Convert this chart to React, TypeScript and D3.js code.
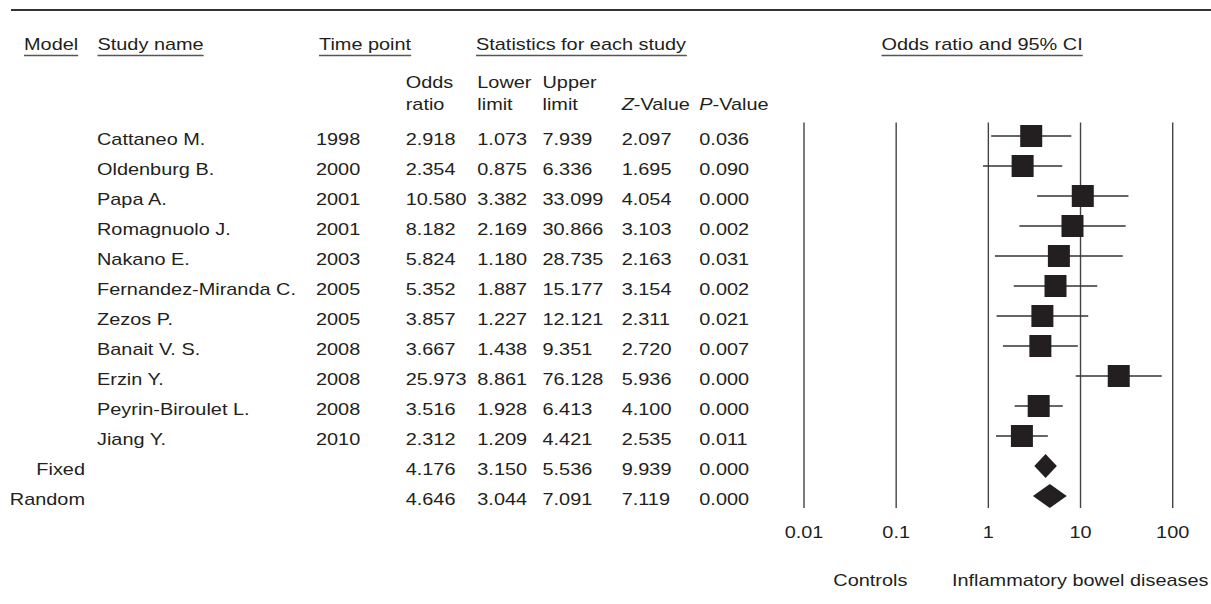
import React, { useEffect, useRef } from "react";
import * as d3 from "d3";

const studyNames = [
  "Cattaneo M.", "Oldenburg B.", "Papa A.", "Romagnuolo J.", "Nakano E.",
  "Fernandez-Miranda C.", "Zezos P.", "Banait V. S.", "Erzin Y.",
  "Peyrin-Biroulet L.", "Jiang Y.",
];
const years = ["1998", "2000", "2001", "2001", "2003", "2005", "2005", "2008", "2008", "2008", "2010"];
const oddsRatio = [2.918, 2.354, 10.58, 8.182, 5.824, 5.352, 3.857, 3.667, 25.973, 3.516, 2.312];
const lowerLimit = [1.073, 0.875, 3.382, 2.169, 1.18, 1.887, 1.227, 1.438, 8.861, 1.928, 1.209];
const upperLimit = [7.939, 6.336, 33.099, 30.866, 28.735, 15.177, 12.121, 9.351, 76.128, 6.413, 4.421];
const zValue = [2.097, 1.695, 4.054, 3.103, 2.163, 3.154, 2.311, 2.72, 5.936, 4.1, 2.535];
const pValue = [0.036, 0.09, 0.0, 0.002, 0.031, 0.002, 0.021, 0.007, 0.0, 0.0, 0.011];

const pooledModels = ["Fixed", "Random"];
const pooledOR = [4.176, 4.646];
const pooledLower = [3.15, 3.044];
const pooledUpper = [5.536, 7.091];
const pooledZ = [9.939, 7.119];
const pooledP = [0.0, 0.0];

const tickValues = [0.01, 0.1, 1, 10, 100];
const tickLabels = ["0.01", "0.1", "1", "10", "100"];

const W = 1211;
const H = 604;
const SX = 1.17;
const FS = 17;
const INK = "#231f20";

export default function App() {
  const ref = useRef<SVGSVGElement | null>(null);

  useEffect(() => {
    const svg = d3.select(ref.current);
    svg.selectAll("*").remove();
    const g = svg.append("g").attr("font-family", "'Liberation Sans', Arial, Helvetica, sans-serif")
      .attr("font-size", FS).attr("fill", INK);

    const fmt = d3.format(".3f");

    const addText = (x: number, y: number, str: string, anchor = "start") =>
      g.append("text")
        .attr("transform", `translate(${x},${y}) scale(${SX},1)`)
        .attr("text-anchor", anchor)
        .text(str);

    const underline = (t: any, x: number, y: number) => {
      const node = t.node() as SVGTextElement;
      const bb = node.getBBox();
      g.append("line")
        .attr("x1", x + bb.x * SX).attr("x2", x + (bb.x + bb.width) * SX)
        .attr("y1", y).attr("y2", y)
        .attr("stroke", "#555").attr("stroke-width", 1.6);
    };

    // top rule
    g.append("line").attr("x1", 11).attr("x2", W).attr("y1", 10).attr("y2", 10)
      .attr("stroke", "#333").attr("stroke-width", 2);

    // header row 1
    const hY = 50;
    const ulY = 55.5;
    const headers: [number, string][] = [
      [24, "Model"], [97.5, "Study name"], [319, "Time point"],
      [476, "Statistics for each study"], [881.5, "Odds ratio and 95% CI"],
    ];
    headers.forEach(([x, s]) => {
      const t = addText(x, hY, s);
      underline(t, x, ulY);
    });

    // header row 2
    const colOR = 405.7, colLo = 477.3, colUp = 542.5, colZ = 621.7, colP = 699.3;
    addText(colOR, 88, "Odds");
    addText(colOR, 110, "ratio");
    addText(colLo, 88, "Lower");
    addText(colLo, 110, "limit");
    addText(colUp, 88, "Upper");
    addText(colUp, 110, "limit");
    const zt = g.append("text").attr("transform", `translate(${colZ},110) scale(${SX},1)`);
    zt.append("tspan").attr("font-style", "italic").text("Z");
    zt.append("tspan").text("-Value");
    const pt = g.append("text").attr("transform", `translate(${colP},110) scale(${SX},1)`);
    pt.append("tspan").attr("font-style", "italic").text("P");
    pt.append("tspan").text("-Value");

    // rows
    const rowKeys = [...studyNames, ...pooledModels];
    const y = d3.scalePoint<string>().domain(rowKeys).range([136, 496]);
    const x = d3.scaleLog().domain([0.01, 100]).range([804, 1172.7]);
    const tOff = 9;

    studyNames.forEach((name, i) => {
      const yy = y(name)! + tOff;
      addText(97, yy, name);
      addText(316, yy, years[i]);
      addText(colOR, yy, fmt(oddsRatio[i]));
      addText(colLo, yy, fmt(lowerLimit[i]));
      addText(colUp, yy, fmt(upperLimit[i]));
      addText(colZ, yy, fmt(zValue[i]));
      addText(colP, yy, fmt(pValue[i]));
    });
    pooledModels.forEach((m, i) => {
      const yy = y(m)! + tOff;
      addText(85, yy, m, "end");
      addText(colOR, yy, fmt(pooledOR[i]));
      addText(colLo, yy, fmt(pooledLower[i]));
      addText(colUp, yy, fmt(pooledUpper[i]));
      addText(colZ, yy, fmt(pooledZ[i]));
      addText(colP, yy, fmt(pooledP[i]));
    });

    // plot vertical reference lines
    const plotTop = 122.5, plotBottom = 508;
    g.append("g").selectAll("line").data(tickValues).join("line")
      .attr("x1", (d) => x(d)).attr("x2", (d) => x(d))
      .attr("y1", plotTop).attr("y2", plotBottom)
      .attr("stroke", "#444").attr("stroke-width", 1.4);

    // tick labels
    tickValues.forEach((v, i) => addText(x(v), 537.5, tickLabels[i], "middle"));

    // CI whiskers
    g.append("g").selectAll("line").data(studyNames).join("line")
      .attr("x1", (_, i) => x(lowerLimit[i])).attr("x2", (_, i) => x(upperLimit[i]))
      .attr("y1", (d) => y(d)!).attr("y2", (d) => y(d)!)
      .attr("stroke", "#333").attr("stroke-width", 1.5);

    // squares
    const sq = 22;
    g.append("g").selectAll("rect").data(studyNames).join("rect")
      .attr("x", (_, i) => x(oddsRatio[i]) - sq / 2)
      .attr("y", (d) => y(d)! - sq / 2)
      .attr("width", sq).attr("height", sq)
      .attr("fill", INK);

    // diamonds
    const dh = 12;
    g.append("g").selectAll("path").data(pooledModels).join("path")
      .attr("d", (d, i) => {
        const cy = y(d)!;
        const path = d3.path();
        path.moveTo(x(pooledLower[i]), cy);
        path.lineTo(x(pooledOR[i]), cy - dh);
        path.lineTo(x(pooledUpper[i]), cy);
        path.lineTo(x(pooledOR[i]), cy + dh);
        path.closePath();
        return path.toString();
      })
      .attr("fill", INK);

    // bottom labels
    addText(833.3, 586, "Controls");
    addText(952, 586, "Inflammatory bowel diseases");
  }, []);

  return (
    <div style={{ position: "absolute", left: 0, top: 0 }}>
      <svg ref={ref} width={W} height={H} style={{ display: "block", background: "#fff" }} />
    </div>
  );
}
